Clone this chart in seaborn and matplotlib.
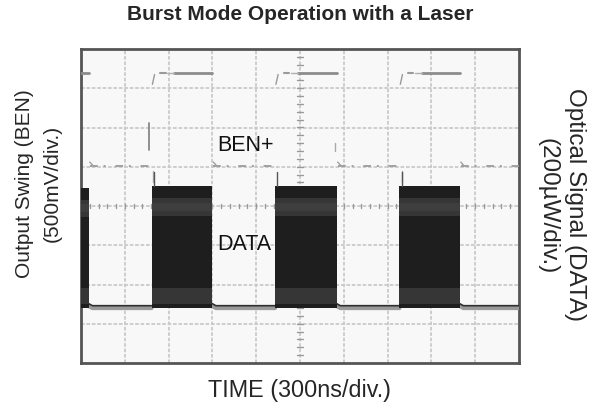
import numpy as np
import pandas as pd
import matplotlib
matplotlib.use("Agg")
import matplotlib.pyplot as plt
import seaborn as sns

# ---- data (in scope divisions) ----
burst_start = [-0.2, 1.61, 4.43, 7.27]
burst_end = [0.18, 3.00, 5.84, 8.65]
burst_top = [4.46, 4.50, 4.50, 4.50]
burst_bottom = 1.40
burst_spike = 4.86
baseline_level = 1.46
ben_high = 7.40
ben_low = 5.02
x_divs = 10
y_divs = 8

title = "Burst Mode Operation with a Laser"
xlabel = "TIME (300ns/div.)"
ylabel_left = ["Output Swing (BEN)", "(500mV/div.)"]
ylabel_right = ["Optical Signal (DATA)", "(200\u00b5W/div.)"]

sns.set_theme(style="white")
plt.rcParams['font.family'] = ['Liberation Sans', 'DejaVu Sans']

fig = plt.figure(figsize=(6.0, 4.09), dpi=100)
ax = fig.add_axes([81/600, 1-363/409, 438/600, 314/409])
ax.set_facecolor("#f8f8f8")
ax.set_xlim(0, x_divs)
ax.set_ylim(0, y_divs)

# grid
for gx in range(1, x_divs):
    ax.axvline(gx, color="#cacaca", lw=1.3, ls=(0, (2, 1)), zorder=1)
for gy in range(1, y_divs):
    ax.axhline(gy, color="#cacaca", lw=1.3, ls=(0, (2, 1)), zorder=1)
# center minor ticks
for t in np.arange(0.2, y_divs, 0.2):
    ax.plot([x_divs/2 - 0.07, x_divs/2 + 0.07], [t, t], color="#999999", lw=1.0, zorder=1)
for t in np.arange(0.2, x_divs, 0.2):
    ax.plot([t, t], [y_divs/2 - 0.06, y_divs/2 + 0.06], color="#999999", lw=1.0, zorder=1)

# ---- DATA trace ----
base_rows = []
seg = 0
gaps = [(burst_end[i], burst_start[i+1]) for i in range(len(burst_start)-1)] + [(burst_end[-1], x_divs)]
for a, b in gaps:
    for xv in (a, a + 0.08, b):
        base_rows.append({"x": xv, "y": baseline_level if xv != a else baseline_level + 0.05, "seg": seg})
    seg += 1
base_df = pd.DataFrame(base_rows)
sns.lineplot(data=base_df, x="x", y=[r - 0.06 for r in base_df["y"]], units="seg", estimator=None,
             color="#9a9a9a", lw=3.0, ax=ax, zorder=3)
sns.lineplot(data=base_df, x="x", y="y", units="seg", estimator=None,
             color="#303030", lw=1.2, ax=ax, zorder=4)

for s, e, top in zip(burst_start, burst_end, burst_top):
    xs = [max(s, 0), e]
    ax.fill_between(xs, burst_bottom, top, color="#1e1e1e", lw=0, zorder=5)
    # subtle lighter eye bands
    ax.fill_between(xs, top - 0.75, top - 0.3, color="#363636", lw=0, zorder=6)
    ax.fill_between(xs, top - 0.62, top - 0.42, color="#3e3e3e", lw=0, zorder=6)
    ax.fill_between(xs, burst_bottom + 0.1, burst_bottom + 0.5, color="#363636", lw=0, zorder=6)
    if s > 0:
        ax.plot([s + 0.05, s + 0.05], [top, burst_spike], color="#555555", lw=1.0, zorder=6)

# ---- BEN trace ----
ben_rows = []
seg = 0
highs = [(0.0, burst_end[0])] + [(burst_start[i] + 0.02, burst_end[i]) for i in range(1, len(burst_start))]
lows = [(burst_end[i] + 0.02, burst_start[i+1] - 0.05) for i in range(len(burst_start)-1)] + [(burst_end[-1] + 0.02, x_divs)]
for a, b in highs:
    ben_rows += [{"x": a + 0.5 if a > 0 else a, "y": ben_high, "seg": seg},
                 {"x": b, "y": ben_high, "seg": seg}]
    seg += 1
ben_df = pd.DataFrame(ben_rows)
sns.lineplot(data=ben_df, x="x", y="y", units="seg", estimator=None,
             color="#8c8c8c", lw=2.0, ax=ax, zorder=4)
for a, b in highs[1:]:
    ax.plot([a, a + 0.05], [ben_high - 0.3, ben_high - 0.05], color="#9a9a9a", lw=1.0, zorder=4)
    ax.plot([a + 0.18, a + 0.3], [ben_high, ben_high], color="#9a9a9a", lw=1.5, zorder=4)
    ax.plot([a + 0.34, a + 0.5], [ben_high, ben_high], color="#b0b0b0", lw=1.0, zorder=4)
for a, b in lows:
    ax.plot([a, b], [ben_low, ben_low], color="#a0a0a0", lw=1.4, ls=(0, (4, 3, 1, 5)), zorder=4)
    ax.plot([a, a + 0.08], [ben_low + 0.1, ben_low], color="#a0a0a0", lw=1.0, zorder=4)
ax.plot([1.56, 1.56], [5.43, 6.11], color="#888888", lw=1.3, zorder=4)
ax.plot([1.64, 1.64], [4.6, 4.9], color="#aaaaaa", lw=1.0, zorder=4)
ax.plot([5.81, 5.81], [5.4, 5.6], color="#aaaaaa", lw=1.0, zorder=4)
ax.plot([7.33, 7.33], [4.6, 4.9], color="#aaaaaa", lw=1.0, zorder=4)

ax.text(3.1, 5.55, "BEN+", fontsize=15.5, color="#111111", va="center", ha="left", zorder=8)
ax.text(3.1, 3.02, "DATA", fontsize=15.5, color="#111111", va="center", ha="left", zorder=8)

ax.set_xticks([])
ax.set_yticks([])
ax.set_xlabel("")
ax.set_ylabel("")
for sp in ax.spines.values():
    sp.set_color("#555555")
    sp.set_linewidth(2.0)
    sp.set_visible(True)

fig.text(0.5, 1 - 15/409, title, ha="center", va="center", fontsize=15, fontweight="bold")
fig.text(0.5, 1 - 391/409, xlabel, ha="center", va="center", fontsize=16.8)
fig.text(25/600, 1 - 184/409, ylabel_left[0], ha="center", va="center", rotation=90, fontsize=15)
fig.text(52/600, 1 - 183/409, ylabel_left[1], ha="center", va="center", rotation=90, fontsize=15)
fig.text(575/600, 1 - 205/409, ylabel_right[0], ha="center", va="center", rotation=-90, fontsize=17.5)
fig.text(548/600, 1 - 206/409, ylabel_right[1], ha="center", va="center", rotation=-90, fontsize=17.5)

fig.savefig("out.png", dpi=100, facecolor="white")
